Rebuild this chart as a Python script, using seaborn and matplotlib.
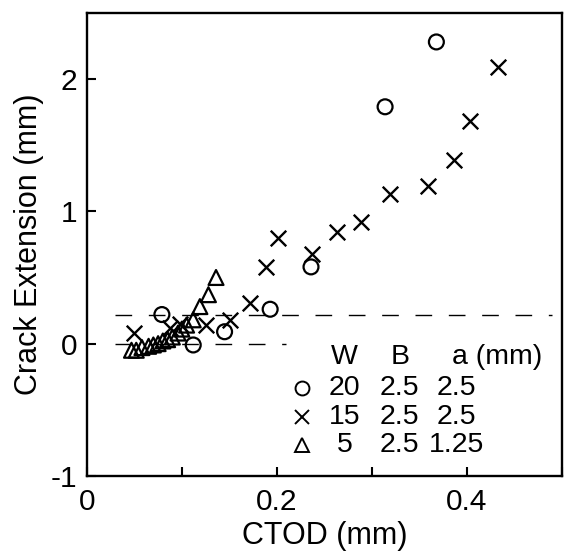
import matplotlib
matplotlib.use("Agg")
import matplotlib.pyplot as plt
import seaborn as sns
import pandas as pd
from matplotlib.lines import Line2D

# ---- data ----
circ_x = [0.079, 0.112, 0.145, 0.193, 0.236, 0.314, 0.368]
circ_y = [0.22, -0.01, 0.09, 0.26, 0.58, 1.79, 2.28]

cross_x = [0.050, 0.088, 0.098, 0.125, 0.151, 0.172, 0.189, 0.201, 0.237,
           0.263, 0.289, 0.319, 0.359, 0.387, 0.403, 0.433]
cross_y = [0.08, 0.12, 0.15, 0.14, 0.18, 0.31, 0.58, 0.80, 0.68,
           0.84, 0.92, 1.13, 1.19, 1.39, 1.68, 2.09]

tri_x = [0.047, 0.052, 0.058, 0.065, 0.070, 0.075, 0.080, 0.085, 0.090,
         0.096, 0.100, 0.105, 0.112, 0.119, 0.128, 0.136]
tri_y = [-0.05, -0.05, -0.03, -0.02, -0.01, 0.0, 0.02, 0.03, 0.05,
         0.08, 0.11, 0.14, 0.18, 0.28, 0.37, 0.50]

# dashed reference levels: (y, x_start, x_end)
ref_upper = [0.22, 0.03, 0.49]
ref_lower = [0.0, 0.03, 0.21]

legend_W = ["20", "15", "5"]
legend_B = ["2.5", "2.5", "2.5"]
legend_a = ["2.5", "2.5", "1.25"]

xticks = [0, 0.1, 0.2, 0.3, 0.4, 0.5]
xticklabels = ["0", "", "0.2", "", "0.4", ""]
yticks = [-1, 0, 1, 2]
yticklabels = ["-1", "0", "1", "2"]

sns.set_style("ticks")
plt.rcParams["font.family"] = ["Liberation Sans", "DejaVu Sans"]
plt.rcParams["text.color"] = "black"
plt.rcParams["axes.labelcolor"] = "black"
plt.rcParams["xtick.color"] = "black"
plt.rcParams["ytick.color"] = "black"
plt.rcParams["axes.edgecolor"] = "black"

fig = plt.figure(figsize=(5.64, 5.58), dpi=100)
ax = fig.add_axes([0.154, 0.147, 0.842, 0.830])

df_c = pd.DataFrame({"x": circ_x, "y": circ_y})
df_x = pd.DataFrame({"x": cross_x, "y": cross_y})
df_t = pd.DataFrame({"x": tri_x, "y": tri_y})

sns.scatterplot(data=df_c, x="x", y="y", marker="o", s=115, facecolors="none",
                edgecolor="black", linewidth=1.6, ax=ax, zorder=3)
sns.scatterplot(data=df_x, x="x", y="y", marker="x", s=125, color="black",
                linewidth=1.7, ax=ax, zorder=3)
sns.scatterplot(data=df_t, x="x", y="y", marker="^", s=115, facecolors="none",
                edgecolor="black", linewidth=1.6, ax=ax, zorder=3)

for yv, x0, x1 in (ref_upper, ref_lower):
    ax.plot([x0, x1], [yv, yv], color="black", lw=1.0, linestyle=(0, (12, 12)), zorder=2)

ax.set_xlim(0, 0.5)
ax.set_ylim(-1, 2.5)
ax.set_xticks(xticks)
ax.set_xticklabels(xticklabels)
ax.set_yticks(yticks)
ax.set_yticklabels(yticklabels)
ax.tick_params(direction="in", length=6.5, width=1.5, labelsize=21.5,
               colors="black", top=False, right=False)
ax.tick_params(axis="x", pad=9)
ax.tick_params(axis="y", pad=7)
for sp in ax.spines.values():
    sp.set_linewidth(1.7)
    sp.set_color("black")
    sp.set_visible(True)

ax.set_xlabel("CTOD (mm)", fontsize=22, labelpad=3, color="black")
ax.set_ylabel("Crack Extension (mm)", fontsize=22, labelpad=5, color="black")

# table-style legend
fs = 20.5
tr = ax.transAxes
ax.text(0.543, 0.257, "W", transform=tr, ha="center", va="center", fontsize=fs, color="black")
ax.text(0.659, 0.257, "B", transform=tr, ha="center", va="center", fontsize=fs, color="black")
ax.text(0.768, 0.257, "a (mm)", transform=tr, ha="left", va="center", fontsize=fs, color="black")
rows_y = [0.190, 0.127, 0.067]
mk = ["o", "x", "^"]
for i, yy in enumerate(rows_y):
    ax.add_line(Line2D([0.452], [yy], transform=tr, marker=mk[i], markersize=10,
                       markerfacecolor="none", markeredgecolor="black",
                       markeredgewidth=1.4, linestyle="none"))
    ax.text(0.543, yy, legend_W[i], transform=tr, ha="center", va="center", fontsize=fs, color="black")
    ax.text(0.659, yy, legend_B[i], transform=tr, ha="center", va="center", fontsize=fs, color="black")
    ax.text(0.779, yy, legend_a[i], transform=tr, ha="center", va="center", fontsize=fs, color="black")

fig.savefig("out.png", dpi=100)
